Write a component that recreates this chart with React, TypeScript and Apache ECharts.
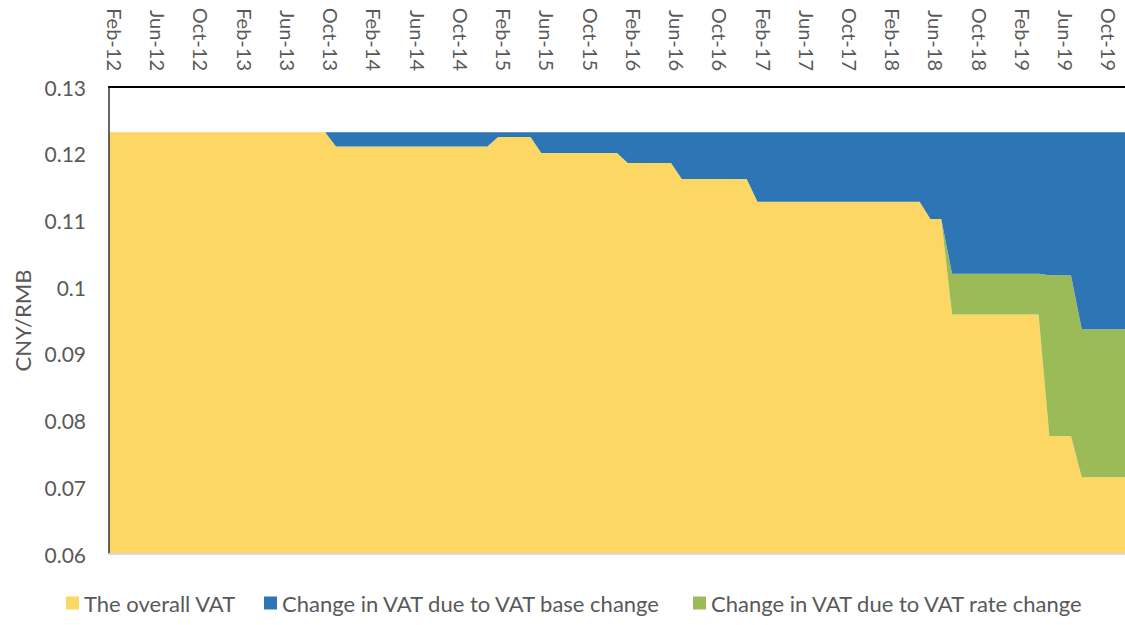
import React, { useEffect, useRef } from "react";
import * as echarts from "echarts";

const monthNames = ["Jan", "Feb", "Mar", "Apr", "May", "Jun", "Jul", "Aug", "Sep", "Oct", "Nov", "Dec"];
// Categories: Feb-12 .. Dec-19 (95 months)
const months: string[] = [];
for (let i = 0; i < 95; i++) {
  const m = (1 + i) % 12;
  const y = 12 + Math.floor((1 + i) / 12);
  months.push(`${monthNames[m]}-${y}`);
}

const seriesNames = [
  "The overall VAT",
  "Change in VAT due to VAT base change",
  "Change in VAT due to VAT rate change",
];

// The overall VAT
const overallVat = [
  0.1232, 0.1232, 0.1232, 0.1232, 0.1232, 0.1232, 0.1232, 0.1232, 0.1232, 0.1232,
  0.1232, 0.1232, 0.1232, 0.1232, 0.1232, 0.1232, 0.1232, 0.1232, 0.1232, 0.1232,
  0.1232, 0.1211, 0.1211, 0.1211, 0.1211, 0.1211, 0.1211, 0.1211, 0.1211, 0.1211,
  0.1211, 0.1211, 0.1211, 0.1211, 0.1211, 0.1211, 0.1225, 0.1225, 0.1225, 0.1225,
  0.1201, 0.1201, 0.1201, 0.1201, 0.1201, 0.1201, 0.1201, 0.1201, 0.1186, 0.1186,
  0.1186, 0.1186, 0.1186, 0.1162, 0.1162, 0.1162, 0.1162, 0.1162, 0.1162, 0.1162,
  0.1128, 0.1128, 0.1128, 0.1128, 0.1128, 0.1128, 0.1128, 0.1128, 0.1128, 0.1128,
  0.1128, 0.1128, 0.1128, 0.1128, 0.1128, 0.1128, 0.1102, 0.1102, 0.0959, 0.0959,
  0.0959, 0.0959, 0.0959, 0.0959, 0.0959, 0.0959, 0.0959, 0.0777, 0.0777, 0.0777,
  0.0715, 0.0715, 0.0715, 0.0715, 0.0715,
];

// Change in VAT due to VAT rate change
const rateChange = [
  0, 0, 0, 0, 0, 0, 0, 0, 0, 0,
  0, 0, 0, 0, 0, 0, 0, 0, 0, 0,
  0, 0, 0, 0, 0, 0, 0, 0, 0, 0,
  0, 0, 0, 0, 0, 0, 0, 0, 0, 0,
  0, 0, 0, 0, 0, 0, 0, 0, 0, 0,
  0, 0, 0, 0, 0, 0, 0, 0, 0, 0,
  0, 0, 0, 0, 0, 0, 0, 0, 0, 0,
  0, 0, 0, 0, 0, 0, 0, 0, 0.0061, 0.0061,
  0.0061, 0.0061, 0.0061, 0.0061, 0.0061, 0.0061, 0.0061, 0.0241, 0.0241, 0.0241,
  0.0222, 0.0222, 0.0222, 0.0222, 0.0222,
];

// Change in VAT due to VAT base change
const baseChange = [
  0, 0, 0, 0, 0, 0, 0, 0, 0, 0,
  0, 0, 0, 0, 0, 0, 0, 0, 0, 0,
  0, 0.0021, 0.0021, 0.0021, 0.0021, 0.0021, 0.0021, 0.0021, 0.0021, 0.0021,
  0.0021, 0.0021, 0.0021, 0.0021, 0.0021, 0.0021, 0.0007, 0.0007, 0.0007, 0.0007,
  0.0031, 0.0031, 0.0031, 0.0031, 0.0031, 0.0031, 0.0031, 0.0031, 0.0046, 0.0046,
  0.0046, 0.0046, 0.0046, 0.007, 0.007, 0.007, 0.007, 0.007, 0.007, 0.007,
  0.0104, 0.0104, 0.0104, 0.0104, 0.0104, 0.0104, 0.0104, 0.0104, 0.0104, 0.0104,
  0.0104, 0.0104, 0.0104, 0.0104, 0.0104, 0.0104, 0.013, 0.013, 0.0212, 0.0212,
  0.0212, 0.0212, 0.0212, 0.0212, 0.0212, 0.0212, 0.0212, 0.0214, 0.0214, 0.0214,
  0.0295, 0.0295, 0.0295, 0.0295, 0.0295,
];

const yTicks = { min: 0.06, max: 0.13, interval: 0.01 };

const FONT = "Lato, 'Open Sans', sans-serif";
const TXT = "#595959";

export default function App() {
  const ref = useRef<HTMLDivElement>(null);
  useEffect(() => {
    document.body.style.margin = "0";
    document.body.style.overflow = "hidden";
    const chart = echarts.init(ref.current!, null, { renderer: "svg" });
    const area = (name: string, data: number[], color: string) => ({
      name,
      type: "line",
      stack: "total",
      data,
      symbol: "none",
      lineStyle: { width: 0 },
      areaStyle: { color, opacity: 1 },
      itemStyle: { color },
    });
    const legendLefts = [61, 259, 688];
    chart.setOption({
      animation: false,
      textStyle: { fontFamily: FONT },
      grid: { left: 109, right: -6, top: 87, bottom: 71 },
      legend: seriesNames.map((n, i) => ({
        bottom: 6,
        left: legendLefts[i],
        itemWidth: 13,
        itemHeight: 13,
        itemGap: 0,
        icon: "rect",
        textStyle: { fontFamily: FONT, fontSize: 22, color: TXT },
        data: [n],
      })),
      xAxis: [
        {
          type: "category",
          data: months,
          boundaryGap: false,
          position: "top",
          z: 10,
          axisLine: { show: true, lineStyle: { color: "#000", width: 2 } },
          axisTick: { show: false },
          splitLine: { show: false },
          axisLabel: {
            interval: 3,
            rotate: 90,
            margin: 16,
            fontSize: 20,
            color: TXT,
            fontFamily: FONT,
            verticalAlign: "bottom",
            lineHeight: 12,
          },
        },
        {
          type: "category",
          data: months,
          boundaryGap: false,
          position: "bottom",
          z: 10,
          axisLine: { show: true, lineStyle: { color: "#d9d9d9", width: 2 } },
          axisTick: { show: false },
          axisLabel: { show: false },
          splitLine: { show: false },
        },
      ],
      yAxis: {
        type: "value",
        min: yTicks.min,
        max: yTicks.max,
        interval: yTicks.interval,
        z: 10,
        name: "CNY/RMB",
        nameLocation: "middle",
        nameGap: 72,
        nameRotate: 90,
        nameTextStyle: { fontSize: 22, color: TXT, fontFamily: FONT },
        axisLine: { show: true, lineStyle: { color: "#333", width: 1.5 } },
        axisTick: { show: false },
        splitLine: { show: false },
        axisLabel: { margin: 23, fontSize: 21, color: TXT, fontFamily: FONT },
      },
      series: [
        area(seriesNames[0], overallVat, "#FDD764"),
        area(seriesNames[2], rateChange, "#9BBB59"),
        area(seriesNames[1], baseChange, "#2E75B6"),
      ],
    });
    return () => chart.dispose();
  }, []);
  return <div ref={ref} style={{ width: 1125, height: 625 }} />;
}
